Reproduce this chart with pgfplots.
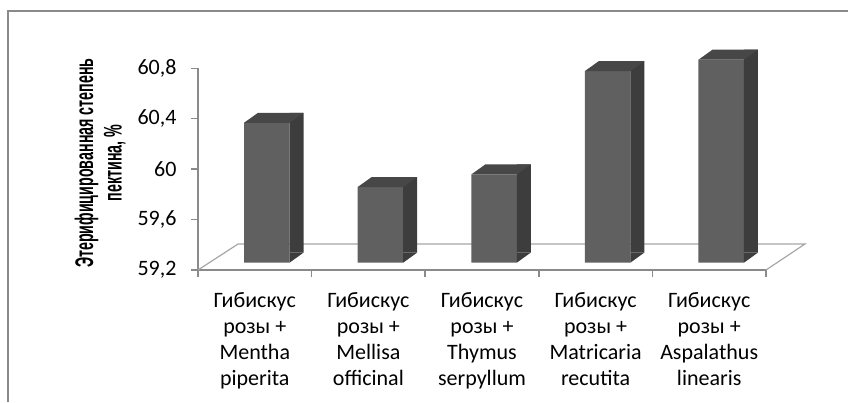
\documentclass[border=0pt]{standalone}
\usepackage{fontspec}
\usepackage{pgfplots}
\pgfplotsset{compat=1.18}
\usepackage{pgfplotstable}
\setmainfont{Carlito}
\newfontfamily\labfont[FakeStretch=0.56]{Liberation Sans}

\definecolor{barfront}{HTML}{606060}
\definecolor{barside}{HTML}{3D3D3D}
\definecolor{bartop}{HTML}{474747}
\definecolor{axisgray}{HTML}{8A8A8A}
\definecolor{floorgray}{HTML}{A6A6A6}

% top face of a column, drawn at the data point (front face is shifted 12pt right, 7.3pt up)
\pgfdeclareplotmark{bartopface}{%
  \pgfpathmoveto{\pgfpoint{-10.75pt}{7.3pt}}%
  \pgfpathlineto{\pgfpoint{34.75pt}{7.3pt}}%
  \pgfpathlineto{\pgfpoint{48.75pt}{17.3pt}}%
  \pgfpathlineto{\pgfpoint{3.25pt}{17.3pt}}%
  \pgfpathclose\pgfusepathqfill}
% lower corner of the side face
\pgfdeclareplotmark{barfoot}{%
  \pgfpathmoveto{\pgfpoint{34.75pt}{7.3pt}}%
  \pgfpathlineto{\pgfpoint{34.75pt}{17.4pt}}%
  \pgfpathlineto{\pgfpoint{48.75pt}{17.4pt}}%
  \pgfpathclose\pgfusepathqfill}

\pgfplotstableread{
i v
1 60.31
2 59.80
3 59.90
4 60.72
5 60.81
}\esterif

\begin{document}
\begin{tikzpicture}
\path[use as bounding box] (0,0) rectangle (848pt,-402pt);
\draw[axisgray, line width=1.5pt] (8pt,-402pt) -- (8pt,-11pt) -- (848pt,-11pt);
\begin{axis}[
    at={(198pt,-270pt)}, anchor=south west,
    scale only axis,
    width=568pt, height=201.7pt,
    xmin=0.5, xmax=5.5,
    ymin=0, ymax=1.6,
    clip=false,
    axis x line*=bottom, axis y line*=left,
    axis line style={axisgray, line width=1.5pt},
    tick style={axisgray, line width=1.5pt},
    tick align=outside,
    major tick length=7pt,
    xtick={0.5,1.5,2.5,3.5,4.5,5.5},
    x tick label as interval,
    xticklabels={
      {Гибискус\\розы +\\Mentha\\piperita},
      {Гибискус\\розы +\\Mellisa\\officinal},
      {Гибискус\\розы +\\Thymus\\serpyllum},
      {Гибискус\\розы +\\Matricaria\\recutita},
      {Гибискус\\розы +\\Aspalathus\\linearis}},
    ytick={0,0.4,0.8,1.2,1.6},
    yticklabels={{59,2},{59,6},{60},{60,4},{60,8}},
    ticklabel style={font=\fontsize{22}{26}\selectfont, text=black},
    xticklabel style={align=center, yshift=-12pt},
    yticklabel style={xshift=-11pt},
    every axis y label/.style={at={(axis description cs:-0.1725,0.53)}, rotate=90, anchor=center},
    ylabel={Этерифицированная степень\\пектина, \%},
    ylabel style={align=center, font=\labfont\bfseries\fontsize{25.5}{28.5}\selectfont},
]
% floor of the 3D plot
\addplot[floorgray, line width=1.2pt, no marks] coordinates {(0.5,0) (0.852,0.206) (5.843,0.206) (5.5,0)};
% front faces
\addplot[ybar, bar width=45.5pt, bar shift=12pt, yshift=7.3pt, fill=barfront, draw=none]
    table[x=i, y expr=\thisrow{v}-59.2] {\esterif};
% side faces
\addplot[ybar, bar width=14pt, bar shift=41.75pt, yshift=17.3pt, fill=barside, draw=none]
    table[x=i, y expr=\thisrow{v}-59.2] {\esterif};
\addplot[only marks, mark=barfoot, mark options={fill=barside, draw=none}]
    table[x=i, y expr=0] {\esterif};
% top faces
\addplot[only marks, mark=bartopface, mark options={fill=bartop, draw=none}]
    table[x=i, y expr=\thisrow{v}-59.2] {\esterif};
\end{axis}
\end{tikzpicture}
\end{document}
